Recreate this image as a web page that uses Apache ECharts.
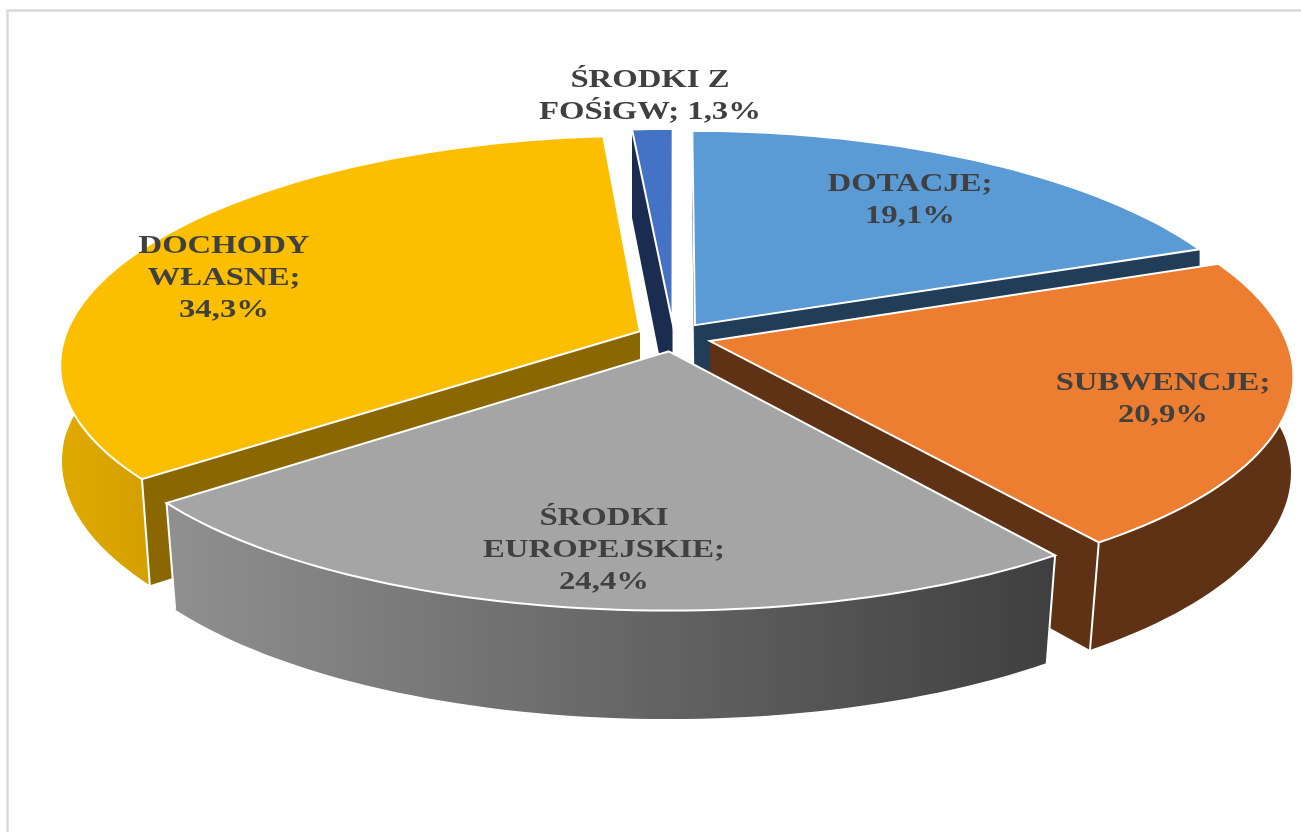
<!DOCTYPE html>
<html><head><meta charset="utf-8">
<style>html,body{margin:0;padding:0;background:#fff}#c{width:1301px;height:832px}</style>
<script src="https://cdn.jsdelivr.net/npm/echarts@6/dist/echarts.min.js"></script>
</head><body><div id="c"></div>
<script>
const categories = ['DOTACJE','SUBWENCJE','ŚRODKI EUROPEJSKIE','DOCHODY WŁASNE','ŚRODKI Z FOŚiGW'];
const values = [19.1,20.9,24.4,34.3,1.3];
const labelTexts = ['DOTACJE;\n19,1%','SUBWENCJE;\n20,9%','ŚRODKI\nEUROPEJSKIE;\n24,4%','DOCHODY\nWŁASNE;\n34,3%','ŚRODKI Z\nFOŚiGW; 1,3%'];

const topColors = ['#5b9bd5','#ed7d31','#a5a5a5','#fbbf00','#4472c4'];
const sideColors = ['#223d58','#5f3216','#3f3f3f','#8a6700','#1a2d50'];
const wallFills = [
  '#223d58','#5f3216',
  {type:'linear',x:176,y:0,x2:1055,y2:0,global:true,colorStops:[{offset:0,color:'#8f8f8f'},{offset:1,color:'#3f3f3f'}]},
  {type:'linear',x:60,y:0,x2:150,y2:0,global:true,colorStops:[{offset:0,color:'#e0aa00'},{offset:1,color:'#d49f00'}]},
  '#1a2d50'];
const labelPos = [[910,201],[1163,400],[604,551],[224,279],[650,97]];
const paintOrder = [4,0,3,1,2];

const cx=674, cy=337, rx=575, ry=222, k=0.128, kx=0.145, h=100, explode=0.065;
function proj(u,v,low){
  const s=1/(1+k*v), sx=1/(1+kx*v);
  let x=cx+rx*u*sx, y=cy-ry*v*s;
  if(low){
    const shrink=1+0.025*Math.min(v,0);
    x=cx+(x-cx)*shrink; y=cy+(y-cy)*shrink+h*s;
  }
  return [x,y];
}
const total=values.reduce((a,b)=>a+b,0);
const slices=[]; let acc=0;
values.forEach(v=>{ const a=acc/total*2*Math.PI; acc+=v; slices.push({a,b:acc/total*2*Math.PI}); });

function renderItem(params,api){
  const i=api.value(0), sl=slices[i], mid=(sl.a+sl.b)/2;
  const ou=explode*Math.sin(mid), ov=explode*Math.cos(mid);
  const rimTop=[], rimLow=[];
  const n=Math.max(4,Math.round((sl.b-sl.a)*40));
  for(let j=0;j<=n;j++){
    const t=sl.a+(sl.b-sl.a)*j/n;
    rimTop.push(proj(ou+Math.sin(t),ov+Math.cos(t),false));
    rimLow.push(proj(ou+Math.sin(t),ov+Math.cos(t),true));
  }
  const apexT=proj(ou,ov,false), apexL=proj(ou,ov,true);
  const side=sideColors[i];
  const children=[];
  const poly=(pts,style)=>children.push({type:'polygon',shape:{points:pts},style});
  poly([apexT,rimTop[0],rimLow[0],apexL],{fill:side});
  poly([apexT,rimTop[n],rimLow[n],apexL],{fill:side});
  poly(rimTop.concat(rimLow.slice().reverse()),{fill:wallFills[i]});
  [[0,sl.a],[n,sl.b]].forEach(([j,t])=>{
    if(Math.cos(t)<0) children.push({type:'polyline',shape:{points:[rimTop[j],rimLow[j]]},style:{stroke:'#fff',lineWidth:2,fill:'none'}});
  });
  poly([apexT].concat(rimTop),{fill:topColors[i],stroke:'#fff',lineWidth:2,lineJoin:'miter'});
  return {type:'group',children};
}
function labelItem(params,api){
  const i=api.value(0);
  return {type:'text',x:labelPos[i][0],y:labelPos[i][1],scaleX:1.31,z2:100,
    style:{text:labelTexts[i],fill:'#404040',font:'bold 25px "Liberation Serif"',
      align:'center',verticalAlign:'middle',lineHeight:32,textAlign:'center',textVerticalAlign:'middle'}};
}
const chart=echarts.init(document.getElementById('c'));
chart.setOption({
  animation:false,
  backgroundColor:'#fff',
  graphic:[{type:'rect',left:5,top:8,shape:{width:1400,height:900},style:{fill:'none',stroke:'#d9d9d9',lineWidth:2.5},silent:true,z:0}],
  series:[
    {type:'custom',coordinateSystem:'none',silent:true,z:2,renderItem,data:paintOrder.map(i=>[i,values[i]])},
    {type:'custom',coordinateSystem:'none',silent:true,z:3,renderItem:labelItem,data:categories.map((c,i)=>({name:c,value:[i,values[i]]}))}
  ]
});
</script></body></html>
